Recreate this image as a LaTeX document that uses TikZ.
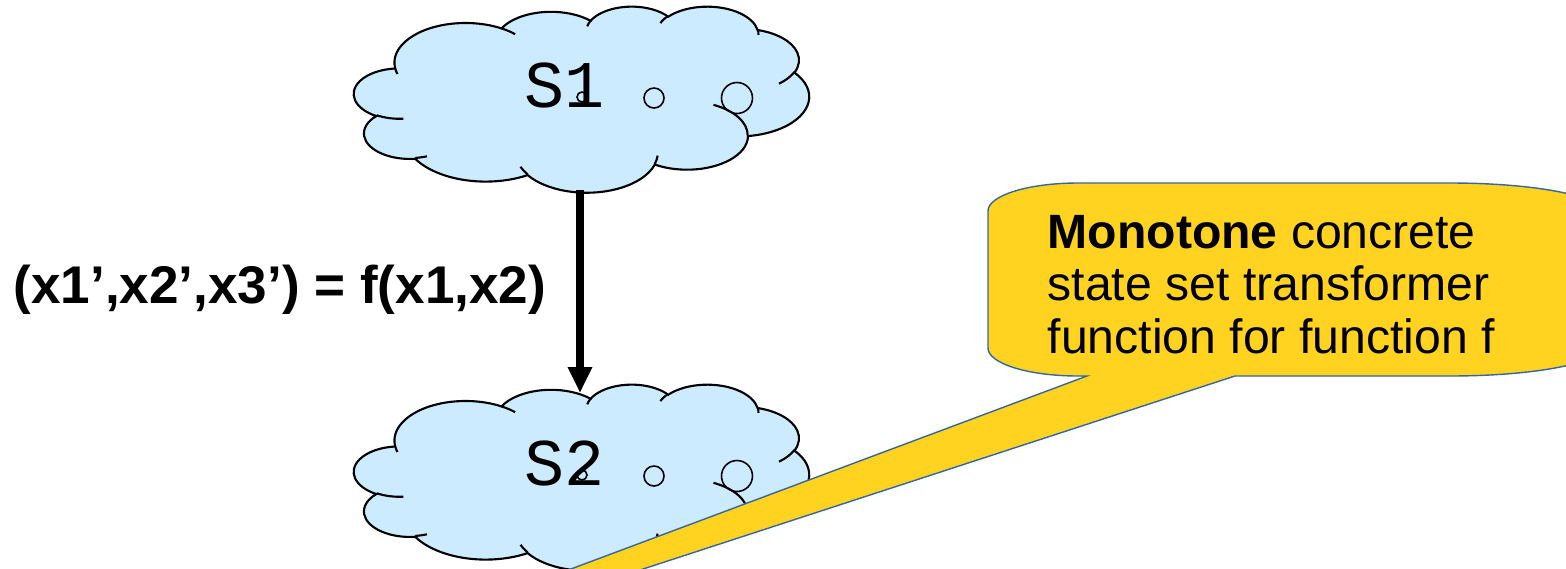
\documentclass[tikz,border=0pt]{standalone}
\usepackage{fontspec}
\setmainfont{Liberation Sans}
\newfontfamily\monofont{Liberation Mono}
\usetikzlibrary{arrows.meta}
\definecolor{cloudblue}{RGB}{204,235,255}
\definecolor{calloutyellow}{RGB}{255,211,32}
\definecolor{calloutline}{RGB}{52,101,164}
\tikzset{
  cloudline/.style={draw=black, line width=0.6pt},
  bubble/.style={draw=black, line width=0.45pt},
  stext/.style={font=\monofont\fontsize{19}{22}\selectfont, inner sep=0pt, anchor=base},
  lbl/.style={font=\bfseries\fontsize{15.1}{18}\selectfont, inner sep=0pt, anchor=base west},
  ctext/.style={font=\fontsize{13.7}{15}\selectfont, inner sep=0pt, anchor=base west},
  callout/.style={fill=calloutyellow, draw=calloutline, line width=0.4pt},
  flow/.style={line width=2pt, -{Triangle[width=0.23cm,length=0.26cm]}}
}
\begin{document}
\begin{tikzpicture}
\useasboundingbox (0,0) rectangle (15.66,-5.68);
\clip (0,0) rectangle (15.66,-5.68);
% clouds
\foreach \cy in {-0.06,-3.84}{
\begin{scope}[shift={(3.54,\cy)}, xscale=0.105324, yscale=-0.043056]
  \path[cloudline, fill=cloudblue] (3.900,14.370)
    arc[start angle=-187.747, delta angle=128.110, x radius=6.753, y radius=9.190]
    arc[start angle=-152.022, delta angle=106.613, x radius=5.333, y radius=7.267]
    arc[start angle=-153.493, delta angle=116.164, x radius=4.365, y radius=5.945]
    arc[start angle=-139.710, delta angle=129.499, x radius=4.857, y radius=6.595]
    arc[start angle=-74.767, delta angle=97.979, x radius=5.333, y radius=7.273]
    arc[start angle=-37.532, delta angle=119.394, x radius=6.775, y radius=9.220]
    arc[start angle=0.4596, delta angle=121.513, x radius=5.785, y radius=7.867]
    arc[start angle=16.845, delta angle=129.370, x radius=6.752, y radius=9.215]
    arc[start angle=58.986, delta angle=91.209, x radius=7.720, y radius=10.543]
    arc[start angle=-276.694, delta angle=139.806, x radius=4.360, y radius=5.918]
    arc[start angle=-239.647, delta angle=143.760, x radius=4.345, y radius=5.945]
    -- cycle;
  \path[cloudline]
    (4.693,26.177) arc[start angle=85.546, delta angle=34.807, x radius=4.345, y radius=5.945]
    (6.928,34.899) arc[start angle=68.247, delta angle=15.059, x radius=4.360, y radius=5.918]
    (16.478,39.090) arc[start angle=146.215, delta angle=12.261, x radius=6.752, y radius=9.215]
    (28.827,34.751) arc[start angle=4.738, delta angle=12.107, x radius=6.752, y radius=9.215]
    (34.129,22.954) arc[start angle=-63.991, delta angle=64.451, x radius=5.785, y radius=7.867]
    (41.798,15.354) arc[start angle=23.212, delta angle=26.425, x radius=5.333, y radius=7.273]
    (38.324,5.426) arc[start angle=-10.211, delta angle=11.032, x radius=4.857, y radius=6.595]
    (29.078,3.952) arc[start angle=-156.282, delta angle=16.572, x radius=4.857, y radius=6.595]
    (22.141,4.720) arc[start angle=-167.725, delta angle=14.232, x radius=4.365, y radius=5.945]
    (14.000,5.192) arc[start angle=-59.637, delta angle=13.904, x radius=6.753, y radius=9.190]
    (4.127,15.789) arc[start angle=163.192, delta angle=9.061, x radius=6.753, y radius=9.190];
\end{scope}
}
% bubbles
\draw[bubble] (5.82,-0.97) circle (0.05);
\draw[bubble] (6.54,-0.98) circle (0.10);
\draw[bubble] (7.37,-0.98) circle (0.155);
\draw[bubble] (5.82,-4.75) circle (0.05);
\draw[bubble] (6.54,-4.76) circle (0.10);
\draw[bubble] (7.37,-4.76) circle (0.155);
% state labels
\node[stext] (s1) at (5.65,-1.07) {S1};
\node[stext] (s2) at (5.65,-4.85) {S2};
% transition
\coordinate (c1bot) at (5.80,-1.90);
\coordinate (c2top) at (5.80,-3.93);
\draw[flow] (c1bot) -- (c2top);
\node[lbl] (f) at (0.13,-3.03) {(x1’,x2’,x3’) = f(x1,x2)};
% callout
\path[callout] (9.88,-2.11) -- (9.88,-3.48)
  arc[start angle=180, end angle=270, x radius=0.9, y radius=0.28]
  -- (10.87,-3.76) -- (4.88,-6.00) -- (5.48,-6.00) -- (12.35,-3.76) -- (14.50,-3.76)
  arc[start angle=270, end angle=360, x radius=1.5, y radius=0.28]
  -- (16.00,-2.11)
  arc[start angle=0, end angle=90, x radius=1.5, y radius=0.28]
  -- (10.78,-1.83)
  arc[start angle=90, end angle=180, x radius=0.9, y radius=0.28] -- cycle;
\node[ctext] (m1) at (10.47,-2.48) {\textbf{Monotone} concrete};
\node[ctext] (m2) at (10.47,-3.00) {state set transformer};
\node[ctext] (m3) at (10.47,-3.53) {function for function f};
\end{tikzpicture}
\end{document}
